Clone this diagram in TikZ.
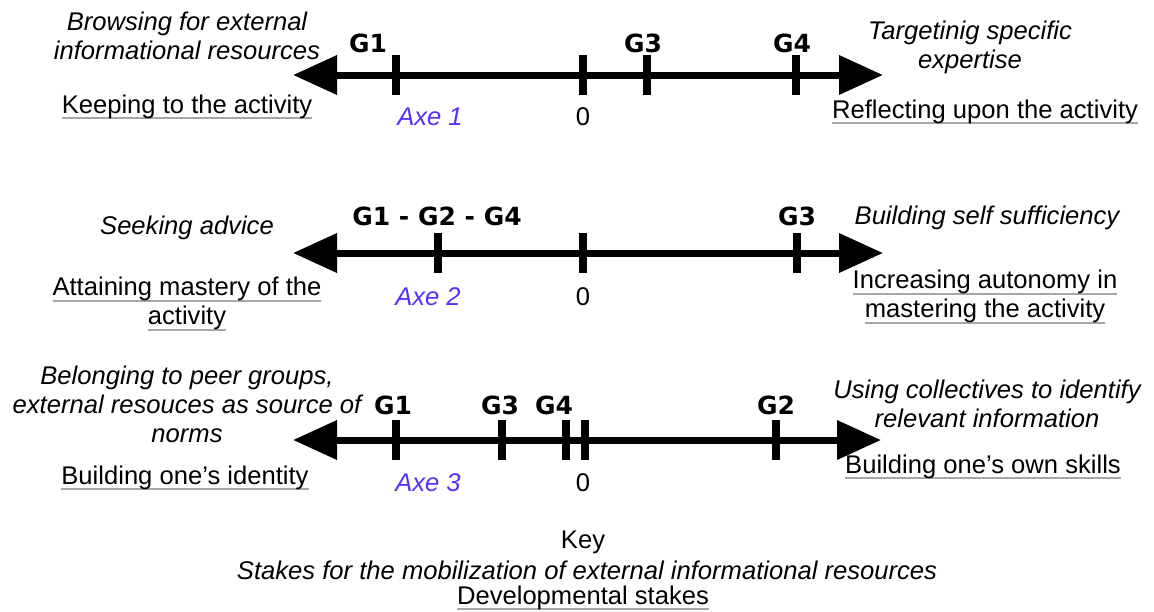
\documentclass[tikz,border=0pt]{standalone}
\usepackage{fontspec}
\setmainfont{Liberation Sans}
\newfontfamily\glabfont{DejaVu Sans}
\usetikzlibrary{positioning}
\usetikzlibrary{arrows.meta}

\definecolor{axeblue}{RGB}{88,48,250}
\newcommand{\txtsize}{\fontsize{12.8}{14.5}\selectfont}
% grey rule under the developmental stakes
\newsavebox{\stakebox}
\newcommand{\stakeline}[1]{\sbox{\stakebox}{#1}\rlap{\color{black!35}\rule[-3pt]{\wd\stakebox}{0.9pt}}\usebox{\stakebox}}

\begin{document}
\begin{tikzpicture}[x=0.5pt,y=-0.5pt,
  axis line/.style={line width=3.5pt,{Triangle[length=22pt,width=19pt]}-{Triangle[length=22pt,width=19pt]}},
  tick mark/.style={line width=3.8pt},
  group label/.style={font=\glabfont\bfseries\fontsize{12.5}{14}\selectfont,inner sep=0pt},
  axe label/.style={font=\txtsize\itshape,text=axeblue,inner sep=0pt},
  zero label/.style={font=\txtsize,inner sep=0pt},
  stake/.style={font=\txtsize\itshape,align=center,inner sep=0pt},
  devel/.style={font=\txtsize,align=center,inner sep=0pt}]
\useasboundingbox (0,0) rectangle (1154,611);

% axe 1
\coordinate (a1l) at (293,75);
\coordinate (a1r) at (883,75);
\draw[axis line] (a1l) -- (a1r);
\foreach \n/\xp in {g1/396,zero/583,g3/647,g4/796}{
  \coordinate (a1\n) at (\xp,75);
  \draw[tick mark] ([yshift=10pt]a1\n) -- ([yshift=-10pt]a1\n);
}
\node[group label] (lg1a) at (368,43) {G1};
\node[group label] (lg3a) at (643,43) {G3};
\node[group label] (lg4a) at (792,43) {G4};
\node[axe label] (axe1) at (430,117) {Axe 1};
\node[zero label] (z1) at (583,117) {0};
\node[stake] (s1l) at (187,36) {Browsing for external\\informational resources};
\node[devel] (d1l) at (187,107) {\stakeline{Keeping to the activity}};
\node[stake] (s1r) at (970,47) {Targetinig specific\\expertise};
\node[devel] (d1r) at (985,112) {\stakeline{Reflecting upon the activity}};

% axe 2
\coordinate (a2l) at (293,253);
\coordinate (a2r) at (883,253);
\draw[axis line] (a2l) -- (a2r);
\foreach \n/\xp in {g2/438,zero/583,g3/797}{
  \coordinate (a2\n) at (\xp,253);
  \draw[tick mark] ([yshift=10pt]a2\n) -- ([yshift=-10pt]a2\n);
}
\node[group label] (lg124) at (437,216) {G1 - G2 - G4};
\node[group label] (lg3b) at (797,216) {G3};
\node[axe label] (axe2) at (428,297) {Axe 2};
\node[zero label] (z2) at (583,297) {0};
\node[stake] (s2l) at (187,228) {Seeking advice};
\node[devel] (d2l) at (187,304) {\stakeline{Attaining mastery of the}\\\stakeline{activity}};
\node[stake] (s2r) at (987,218) {Building self sufficiency};
\node[devel] (d2r) at (985,297) {\stakeline{Increasing autonomy in}\\\stakeline{mastering the activity}};

% axe 3
\coordinate (a3l) at (293,440);
\coordinate (a3r) at (881,440);
\draw[axis line] (a3l) -- (a3r);
\foreach \n/\xp in {g1/396,g3/502,g4/566,zero/585,g2/776}{
  \coordinate (a3\n) at (\xp,440);
  \draw[tick mark] ([yshift=10pt]a3\n) -- ([yshift=-10pt]a3\n);
}
\node[group label] (lg1c) at (393,405) {G1};
\node[group label] (lg3c) at (500,405) {G3};
\node[group label] (lg4c) at (554,405) {G4};
\node[group label] (lg2c) at (776,405) {G2};
\node[axe label] (axe3) at (428,483) {Axe 3};
\node[zero label] (z3) at (583,483) {0};
\node[stake] (s3l) at (187,404) {Belonging to peer groups,\\external resouces as source of\\norms};
\node[devel] (d3l) at (185,478) {\stakeline{Building one's identity}};
\node[stake] (s3r) at (987,404) {Using collectives to identify\\relevant information};
\node[devel] (d3r) at (983,467) {\stakeline{Building one's own skills}};

% key
\node[devel] (key) at (583,542) {Key};
\node[stake] (keys) at (587,570) {Stakes for the mobilization of external informational resources};
\node[devel] (keyd) at (583,598) {\stakeline{Developmental stakes}};
\end{tikzpicture}
\end{document}
